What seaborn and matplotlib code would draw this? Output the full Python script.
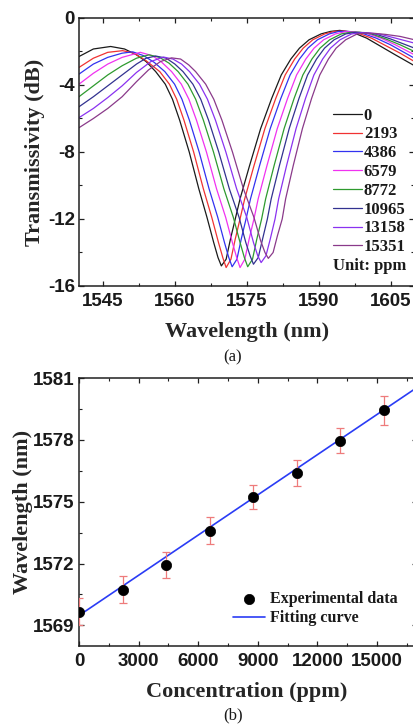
import matplotlib
matplotlib.use("Agg")
import matplotlib.pyplot as plt
from matplotlib.ticker import MultipleLocator, AutoMinorLocator
import numpy as np
import pandas as pd
import seaborn as sns

# ---------------- (a) transmission spectra, one trace per concentration ----------------
concentrations = ["0", "2193", "4386", "6579", "8772", "10965", "13158", "15351"]
trace_colors = ["#1a1a1a", "#f03232", "#3232f0", "#f032f0",
                "#2e9a2e", "#323290", "#8a32f0", "#8a3a8a"]

wl_0 = [1540, 1543, 1546.6, 1549.5, 1552, 1554, 1556, 1558, 1559.5, 1561, 1563, 1565,
        1566.7, 1568.1, 1569, 1569.7, 1570.7, 1571.6, 1572.6, 1573.6, 1575.6, 1577.9,
        1580.2, 1582.2, 1584.2, 1586, 1588, 1590.5, 1592.5, 1594.4, 1597, 1600, 1603,
        1606, 1610]
db_0 = [-2.3, -1.85, -1.7, -1.85, -2.2, -2.6, -3.2, -3.95, -4.85, -6.1, -8.0, -10.2,
        -11.9, -13.4, -14.3, -14.8, -14.4, -13.2, -12.0, -10.8, -8.8, -6.6,
        -4.8, -3.4, -2.45, -1.8, -1.3, -0.95, -0.8, -0.74, -0.85, -1.2, -1.7,
        -2.2, -2.85]

wl_2193 = [1540, 1543, 1546, 1549.1, 1551.5, 1554, 1556.85, 1558.86, 1560.38, 1561.9,
           1563.92, 1565.95, 1567.7, 1569.1, 1570.0, 1570.7, 1571.7, 1572.6, 1573.6,
           1574.57, 1576.53, 1578.79, 1581.05, 1583.02, 1585.0, 1586.78, 1588.78,
           1591.27, 1593.27, 1595.3, 1598, 1601, 1604, 1607, 1610]
db_2193 = [-2.95, -2.4, -2.05, -1.95, -2.1, -2.55, -3.2, -3.95, -4.85, -6.1,
           -8.0, -10.2, -11.9, -13.4, -14.3, -14.9, -14.4, -13.2, -12.0,
           -10.8, -8.8, -6.6, -4.8, -3.4, -2.45, -1.8, -1.3,
           -0.95, -0.8, -0.78, -0.88, -1.2, -1.65, -2.1, -2.6]

wl_4386 = [1540, 1543, 1546, 1549, 1551.2, 1553.5, 1555.7, 1557.91, 1559.94, 1561.48,
           1563.03, 1565.07, 1567.14, 1568.95, 1570.35, 1571.25, 1571.95, 1572.95,
           1573.85, 1574.85, 1575.78, 1577.69, 1579.9, 1582.11, 1584.05, 1586.0,
           1587.76, 1589.76, 1592.23, 1594.23, 1596.2, 1599, 1602, 1605, 1610]
db_4386 = [-3.35, -2.75, -2.35, -2.1, -2.02, -2.25, -2.65, -3.2, -3.95, -4.85,
           -6.1, -8.0, -10.2, -11.9, -13.4, -14.3, -14.85, -14.4,
           -13.2, -12.0, -10.8, -8.8, -6.6, -4.8, -3.4, -2.45,
           -1.8, -1.3, -0.95, -0.8, -0.8, -0.9, -1.2, -1.6, -2.4]

wl_6579 = [1540, 1543, 1546, 1549, 1552.8, 1555.3, 1557.3, 1559.32, 1561.35, 1562.93,
           1564.51, 1566.59, 1568.7, 1570.6, 1572.0, 1572.9, 1573.6, 1574.6, 1575.5,
           1576.5, 1577.38, 1579.23, 1581.37, 1583.52, 1585.4, 1587.32, 1589.04,
           1591.04, 1593.5, 1595.5, 1597.3, 1600, 1603, 1606, 1610]
db_6579 = [-3.95, -3.3, -2.75, -2.35, -2.05, -2.25, -2.65, -3.2, -3.95, -4.85,
           -6.1, -8.0, -10.2, -11.9, -13.4, -14.3, -14.9, -14.4, -13.2,
           -12.0, -10.8, -8.8, -6.6, -4.8, -3.4, -2.45, -1.8,
           -1.3, -0.95, -0.82, -0.82, -0.92, -1.2, -1.6, -2.2]

wl_8772 = [1540, 1543, 1546, 1549, 1552, 1554.6, 1556.8, 1558.8, 1560.68, 1562.73,
           1564.34, 1565.95, 1568.06, 1570.23, 1572.2, 1573.6, 1574.5, 1575.2, 1576.2,
           1577.1, 1578.1, 1578.94, 1580.72, 1582.8, 1584.88, 1586.71, 1588.6,
           1590.29, 1592.29, 1594.74, 1596.74, 1598.5, 1601, 1604, 1607, 1610]
db_8772 = [-4.7, -4.05, -3.4, -2.85, -2.4, -2.2, -2.35, -2.7, -3.2, -3.95,
           -4.85, -6.1, -8.0, -10.2, -11.9, -13.4, -14.3, -14.85, -14.4,
           -13.2, -12.0, -10.8, -8.8, -6.6, -4.8, -3.4, -2.45,
           -1.8, -1.3, -0.95, -0.85, -0.85, -0.95, -1.25, -1.6, -2.0]

wl_10965 = [1540, 1543, 1546, 1549, 1552, 1554, 1556.0, 1558.2, 1560.0, 1561.7, 1563.76,
            1565.4, 1567.03, 1569.16, 1571.37, 1573.4, 1574.8, 1575.7, 1576.4, 1577.4,
            1578.3, 1579.3, 1580.1, 1581.83, 1583.86, 1585.9, 1587.69, 1589.56,
            1591.23, 1593.23, 1595.66, 1597.66, 1599.5, 1602, 1605, 1610]
db_10965 = [-5.3, -4.7, -4.05, -3.4, -2.75, -2.4, -2.27, -2.4, -2.75, -3.2, -3.95,
            -4.85, -6.1, -8.0, -10.2, -11.9, -13.4, -14.2, -14.7, -14.3,
            -13.2, -12.0, -10.8, -8.8, -6.6, -4.8, -3.4, -2.45,
            -1.8, -1.3, -0.95, -0.86, -0.87, -0.97, -1.25, -1.8]

wl_13158 = [1540, 1543, 1546, 1549, 1552, 1555, 1557.6, 1559.6, 1561.4, 1563.06,
            1565.14, 1566.8, 1568.47, 1570.64, 1572.89, 1575.0, 1576.4, 1577.3, 1578.0,
            1579.0, 1579.9, 1580.9, 1581.65, 1583.32, 1585.29, 1587.26, 1589.01,
            1590.84, 1592.47, 1594.47, 1596.89, 1598.89, 1600.8, 1603, 1606, 1610]
db_13158 = [-5.95, -5.4, -4.75, -4.05, -3.25, -2.6, -2.33, -2.45, -2.75, -3.2,
            -3.95, -4.85, -6.1, -8.0, -10.2, -11.9, -13.4, -14.2, -14.6,
            -14.2, -13.2, -12.0, -10.8, -8.8, -6.6, -4.8, -3.4,
            -2.45, -1.8, -1.3, -0.95, -0.88, -0.9, -0.98, -1.2, -1.5]

wl_15351 = [1540, 1543, 1546, 1549, 1552, 1554.5, 1557, 1559.3, 1561.2, 1562.9, 1564.33,
            1566.43, 1568.12, 1569.82, 1572.02, 1574.31, 1576.5, 1577.9, 1578.8, 1579.5,
            1580.5, 1581.4, 1582.4, 1583.11, 1584.71, 1586.62, 1588.53, 1590.24,
            1592.04, 1593.64, 1595.64, 1598.05, 1600.05, 1601.8, 1604, 1607, 1610]
db_15351 = [-6.55, -6.0, -5.4, -4.7, -3.8, -3.1, -2.6, -2.38, -2.45, -2.8, -3.2,
            -3.95, -4.85, -6.1, -8.0, -10.2, -11.9, -13.3, -14.0, -14.35,
            -14.0, -13.0, -12.0, -10.8, -8.8, -6.6, -4.8, -3.4,
            -2.45, -1.8, -1.3, -0.95, -0.9, -0.92, -0.98, -1.1, -1.3]

spectra_wl = [wl_0, wl_2193, wl_4386, wl_6579, wl_8772, wl_10965, wl_13158, wl_15351]
spectra_db = [db_0, db_2193, db_4386, db_6579, db_8772, db_10965, db_13158, db_15351]

# ---------------- (b) dip wavelength versus concentration ----------------
conc_ppm = [0, 2193, 4386, 6579, 8772, 10965, 13158, 15351]
dip_nm = [1569.66, 1570.74, 1571.92, 1573.6, 1575.23, 1576.4, 1577.96, 1579.43]
dip_err = [0.65, 0.65, 0.62, 0.65, 0.6, 0.62, 0.62, 0.7]
fit_intercept = 1569.48
fit_slope = 0.00065  # nm per ppm
fit_span = [0, 17000]

# ---------------- styling ----------------
sns.set_theme(style="ticks")
plt.rcParams["font.family"] = ["Liberation Sans", "DejaVu Sans"]
plt.rcParams["axes.unicode_minus"] = False
plt.rcParams["axes.linewidth"] = 1.0

serif_bold = dict(family=["Liberation Serif", "DejaVu Serif"], weight="bold")
TICK_SIZE = 13.5

W, H = 413, 724
fig = plt.figure(figsize=(W / 100, H / 100), dpi=100)
fig.patch.set_facecolor("white")


def px_axes(left, top, right, bottom):
    return fig.add_axes([left / W, 1 - bottom / H, (right - left) / W, (bottom - top) / H])


def style_axes(ax):
    ax.set_facecolor("white")
    for s in ax.spines.values():
        s.set_color("#202020")
        s.set_linewidth(1.1)
    ax.tick_params(which="both", direction="in", top=True, right=True, colors="#202020")
    ax.tick_params(which="major", length=3.8, width=0.9)
    ax.tick_params(which="minor", length=2.2, width=0.8)
    ax.tick_params(axis="x", which="major", pad=5)
    ax.tick_params(axis="y", which="major", pad=3)
    for lab in ax.get_xticklabels() + ax.get_yticklabels():
        lab.set_fontfamily(["Liberation Sans", "DejaVu Sans"])
        lab.set_fontweight("bold")
        lab.set_fontsize(TICK_SIZE)
        lab.set_color("#1a1a1a")


# ---- panel (a) ----
ax1 = px_axes(79, 18, 414.5, 286)
rows = []
for c, wls, dbs in zip(concentrations, spectra_wl, spectra_db):
    for w, d in zip(wls, dbs):
        rows.append((c, w, d))
spec = pd.DataFrame(rows, columns=["conc", "wavelength", "trans"])
sns.lineplot(data=spec, x="wavelength", y="trans", hue="conc", hue_order=concentrations,
             palette=trace_colors, sort=False, estimator=None, linewidth=0.9, ax=ax1,
             legend=False)
ax1.set_xlim(1540, 1610)
ax1.set_ylim(-16, 0)
ax1.set_xticks([1545, 1560, 1575, 1590, 1605])
ax1.xaxis.set_minor_locator(AutoMinorLocator(2))
ax1.yaxis.set_major_locator(MultipleLocator(4))
ax1.yaxis.set_minor_locator(AutoMinorLocator(2))
style_axes(ax1)
ax1.set_xlabel("Wavelength (nm)", fontsize=16, va="center", **serif_bold)
ax1.set_ylabel("Transmissivity (dB)", fontsize=16, va="center", **serif_bold)
ax1.xaxis.set_label_coords(0.5, (286 - 332) / 268)
ax1.yaxis.set_label_coords((35 - 79) / 335.5, 0.5)

handles = ax1.get_lines()[:len(concentrations)]
leg1 = ax1.legend(handles, concentrations, loc="upper left",
                  bbox_to_anchor=(333 / W, 1 - 107.5 / H), bbox_transform=fig.transFigure,
                  frameon=False, borderpad=0, borderaxespad=0, handlelength=1.75,
                  handletextpad=0.1, labelspacing=0.17,
                  prop=dict(family=["Liberation Serif"], weight="bold", size=12))
for t in leg1.get_texts():
    t.set_color("#1a1a1a")
fig.text(333 / W, 1 - 266 / H, "Unit: ppm", ha="left", va="center", fontsize=12,
         color="#1a1a1a", **serif_bold)
fig.text(233 / W, 1 - 357 / H, "(a)", ha="center", va="center", fontsize=12,
         family=["Liberation Serif"], color="#1a1a1a")

# ---- panel (b) ----
ax2 = px_axes(79, 378, 416.7, 646)
fit_y = [fit_intercept + fit_slope * x for x in fit_span]
sns.lineplot(x=fit_span, y=fit_y, color="#2a3cf5", linewidth=1.2, ax=ax2,
             label="Fitting curve", legend=False, zorder=2)
ax2.errorbar(conc_ppm, dip_nm, yerr=dip_err, fmt="none", ecolor="#ee7b7b",
             elinewidth=0.9, capsize=3.2, capthick=0.9, zorder=3)
sns.scatterplot(x=conc_ppm, y=dip_nm, color="black", s=55, edgecolor="black",
                linewidth=0.5, ax=ax2, label="Experimental data", legend=False, zorder=4)
ax2.set_xlim(0, 17000)
ax2.set_ylim(1568, 1581)
ax2.set_xticks([0, 3000, 6000, 9000, 12000, 15000])
ax2.xaxis.set_minor_locator(AutoMinorLocator(2))
ax2.set_yticks([1569, 1572, 1575, 1578, 1581])
ax2.yaxis.set_minor_locator(AutoMinorLocator(2))
style_axes(ax2)
ax2.set_xlabel("Concentration (ppm)", fontsize=16, va="center", **serif_bold)
ax2.set_ylabel("Wavelength (nm)", fontsize=16, va="center", **serif_bold)
ax2.xaxis.set_label_coords(0.496, (646 - 692) / 268)
ax2.yaxis.set_label_coords((23 - 79) / 337.7, 0.5)

h, l = ax2.get_legend_handles_labels()
order = [l.index("Experimental data"), l.index("Fitting curve")]
leg2 = ax2.legend([h[i] for i in order], [l[i] for i in order], loc="upper left",
                  bbox_to_anchor=(233 / W, 1 - 591 / H), bbox_transform=fig.transFigure,
                  frameon=False, borderpad=0, borderaxespad=0, handlelength=2.0,
                  handletextpad=0.3, labelspacing=0.2,
                  prop=dict(family=["Liberation Serif"], weight="bold", size=11.5))
for t in leg2.get_texts():
    t.set_color("#1a1a1a")
fig.text(233 / W, 1 - 715 / H, "(b)", ha="center", va="center", fontsize=12,
         family=["Liberation Serif"], color="#1a1a1a")

fig.savefig("out.png", dpi=100, facecolor="white")
